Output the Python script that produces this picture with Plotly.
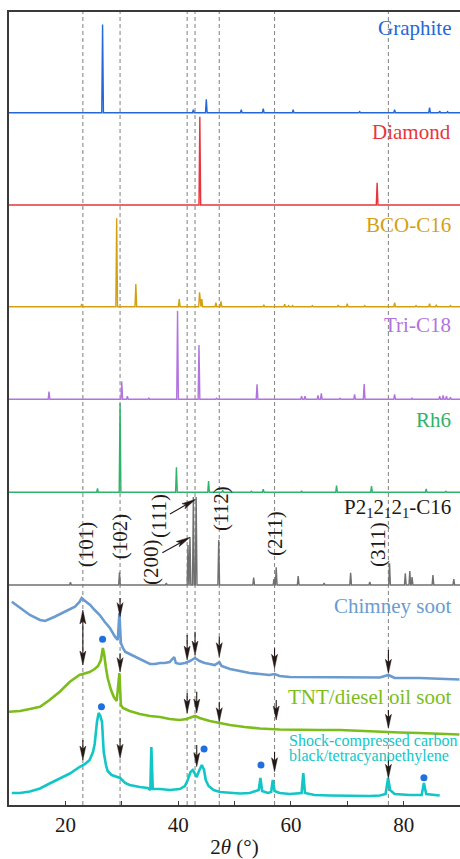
import plotly.graph_objects as go
import math

# ---------------- data (2theta in degrees, intensity in arbitrary units) ----------------
# simulated reference patterns: peak positions and heights
graphite_pos = [26.6, 42.7, 45.0, 51.2, 55.1, 60.4, 72.2, 78.4, 84.6, 86.4, 87.8]
graphite_int = [88.3, 3, 13.3, 3, 4, 3, 1, 3, 5, 1.5, 1]

diamond_pos = [43.85, 75.3]
diamond_int = [88.3, 22.3]

bco_pos = [22.9, 29.1, 32.5, 40.2, 43.8, 44.2, 46.7, 47.6, 55.2, 58.9, 59.6, 60.3, 63.8, 68.4, 70.0, 73.1, 78.4, 82.2, 84.6, 85.8, 88.3]
bco_int = [2.7, 88.4, 22.7, 7.7, 14.3, 7.7, 4, 5.3, 2, 2.5, 1, 1, 1, 1.5, 3, 1, 4, 1, 3, 2, 1]

tri_pos = [17.1, 30.0, 31.0, 34.8, 39.9, 43.7, 46.8, 54.0, 61.9, 62.5, 64.8, 65.4, 68.7, 71.3, 73.0, 78.4, 81.5, 86.4, 87.0, 87.6, 88.3]
tri_int = [7.7, 17.7, 3, 1.5, 88.3, 54.3, 1, 15, 3, 3, 4, 6, 1, 5, 15.3, 5, 1.5, 3, 4, 3, 2]

rh6_pos = [25.7, 29.7, 39.7, 45.4, 47.9, 53.0, 55.1, 61.9, 68.1, 74.3, 84.0, 87.5]
rh6_int = [4, 89, 25, 11.3, 2, 1, 3, 1.5, 6.7, 6.3, 3.5, 1]

p2_pos = [20.9, 29.6, 37.9, 41.75, 42.1, 42.7, 43.2, 47.2, 53.4, 57.0, 57.4, 61.3, 65.9, 70.6, 74.0, 77.5, 80.3, 81.1, 81.5, 85.2, 88.9]
p2_int = [2.7, 12.7, 2, 40, 48, 88, 88, 45, 7.3, 6, 17.7, 9, 2, 12.3, 3, 21.7, 11.7, 14, 8, 10, 6]

# experimental patterns (traced)
chimney_x = [10.5, 11.95, 13.7, 15.5, 16.4, 18.1, 19.9, 21.7, 22.5, 22.9, 23.5, 24.4, 25.2, 26.1, 27.0, 27.9, 28.8, 29.3, 29.58, 29.85, 30.2, 30.6, 31.4, 32.3, 33.2, 34.1, 35.0, 35.9, 36.8, 37.6, 38.5, 39.3, 39.6, 40.3, 41.2, 42.1, 43.0, 43.8, 44.7, 45.6, 46.5, 47.3, 47.7, 49.2, 51.0, 52.7, 54.5, 56.2, 57.1, 58.0, 59.8, 61.6, 65.1, 68.7, 72.2, 75.8, 77.3, 78.4, 82.8, 86.4, 89.9]
chimney_y = [203.3, 197, 190, 185, 184, 188.3, 193.3, 198.3, 203, 207, 204, 200, 195, 190, 183, 177, 168.3, 165, 192, 162, 157, 153.3, 151, 148.3, 146, 143, 141, 141, 142, 142, 143, 148, 142, 141, 142, 144, 147, 144, 142, 141, 140, 143, 139, 136, 134, 132, 131, 130, 131, 129, 128, 128, 128, 128, 127.5, 127.5, 130, 127, 127, 126, 125.5]

tnt_x = [10.0, 11.95, 13.7, 15.5, 17.2, 19.0, 20.8, 22.5, 24.3, 25.2, 25.8, 26.3, 26.65, 26.9, 27.2, 27.5, 28.1, 28.6, 29.1, 29.58, 29.85, 30.2, 31.4, 33.2, 35.0, 36.8, 38.5, 40.3, 41.5, 43.0, 43.8, 45.6, 47.4, 49.2, 51.8, 54.5, 58.0, 61.6, 65.1, 68.7, 72.2, 75.8, 79.3, 82.8, 86.4, 89.9]
tnt_y = [93.3, 94, 96, 98.3, 105, 113.3, 123.3, 130, 133, 136, 139, 145, 157, 150, 137, 127, 115, 108, 104, 132, 100, 97, 94, 91, 89, 88, 86, 85, 86, 89, 87, 84, 82, 80, 78, 76.5, 75.5, 75, 75, 75, 74, 73.5, 72.5, 72, 71, 70.5]

shock_x = [10.5, 11.95, 13.7, 15.5, 17.2, 19.0, 20.8, 22.5, 23.5, 24.3, 24.9, 25.2, 25.6, 25.9, 26.2, 26.5, 26.8, 27.2, 27.5, 28.2, 29.0, 29.7, 30.6, 31.4, 33.2, 34.6, 35.07, 35.25, 35.5, 36.8, 38.5, 40.3, 41.2, 41.7, 42.2, 42.6, 43.0, 43.3, 43.7, 44.2, 44.6, 44.9, 45.4, 46.3, 47.4, 49.2, 51.0, 52.7, 53.6, 54.3, 54.6, 54.9, 55.9, 56.5, 56.8, 57.1, 58.0, 59.8, 61.9, 62.2, 62.5, 64.2, 66.9, 70.4, 74.0, 75.8, 76.8, 77.25, 77.6, 78.4, 81.1, 83.2, 83.6, 84.0, 85.5, 86.4]
shock_y = [12, 12, 13.5, 16.5, 21.5, 26.5, 31.5, 38, 41, 45, 53, 61, 83, 92, 89, 83, 53, 40, 34, 30, 28, 27, 22, 20, 18, 17, 15, 58, 16, 16, 15, 16, 19, 25, 33, 35, 31, 28, 34, 40, 35, 25, 19, 15, 13, 12, 11.5, 12, 14, 15, 27, 14, 12, 13, 25, 14, 12, 11, 12, 32, 12, 10, 9.5, 9, 9, 9.5, 11, 27, 15, 11, 10, 10, 22, 11, 10, 9.5]

# marked phase peaks (blue dots)
dot_x = [26.6, 26.4, 44.6, 54.7, 83.6]
dot_y = [165.7, 98.3, 56, 40, 27.3]

# vertical offsets of stacked patterns
offsets = {"Graphite": 692.3, "Diamond": 600, "BCO-C16": 498.3, "Tri-C18": 405.7, "Rh6": 312.7, "P2": 220}

# reference lines (P2_12_12_1-C16 reflections)
ref_lines = [23.1, 29.7, 41.6, 43.0, 47.3, 57.1, 77.3]
hkl_text = ["(101)", "(102)", "(200)", "(111)", "(112)", "(211)", "(311)"]
hkl_x = [23.65, 29.6, 35.2, 36.6, 47.6, 57.1, 75.45]
hkl_y = [260.8, 268.3, 243, 289, 297, 271.5, 261]

# x tick labels
tick_vals = [20, 40, 60, 80]
tick_text = ["20", "40", "60", "80"]

# arrows: (x_tail, y_tail, x_tip, y_tip)
arrows = [
    # chimney soot
    (29.7, 207, 29.7, 188.3), (41.6, 170, 41.6, 145), (43.0, 173.3, 43.0, 150),
    (47.3, 168.3, 47.3, 148.3), (57.1, 156.7, 57.1, 136.7), (77.3, 155, 77.3, 131.7),
    (23.1, 168, 23.1, 195), (23.1, 168, 23.1, 140),
    # TNT/diesel oil soot
    (29.7, 151.7, 29.7, 133.3), (41.6, 112, 41.6, 92), (43.3, 113.3, 43.3, 92),
    (47.3, 103.3, 47.3, 83.3), (57.4, 105, 57.4, 85), (77.3, 95, 77.3, 76.7),
    # shock-compressed
    (23.1, 65, 23.1, 45), (29.7, 66.7, 29.7, 46.7), (43.3, 60, 43.3, 38.3),
    (57.1, 53.3, 57.1, 33.3), (77.3, 48.3, 77.3, 26.7),
    # (111) pointers in P2 panel
    (38.55, 291, 43.1, 305.7), (37.2, 252.3, 42.1, 267.7),
]

# ---------------- figure ----------------
FONT = "'Times New Roman', Tinos, 'Liberation Serif', 'Noto Serif', 'DejaVu Serif', serif"
W, H = 460, 859
ML, MR, MT, MB = 9, 0, 12, 54
XR = [10, 90]
YR = [0, H - MT - MB]
SX = (W - ML - MR) / (XR[1] - XR[0])  # px per degree
SY = (H - MT - MB) / (YR[1] - YR[0])

fig = go.Figure()

for xv in ref_lines:
    fig.add_shape(type="line", x0=xv, x1=xv, y0=YR[0], y1=YR[1], xref="x", yref="y",
                  line=dict(color="#8c8c8c", width=1.1, dash="4px,3px"), layer="below")


def sticks(pos, hts, base, hw=0.15):
    xs, ys = [XR[0]], [base]
    for p, h in sorted(zip(pos, hts)):
        xs += [p - hw, p, p + hw]
        ys += [base, base + h, base]
    xs.append(XR[1]); ys.append(base)
    return xs, ys


sim = [
    ("Graphite", graphite_pos, graphite_int, "#2468d8"),
    ("Diamond", diamond_pos, diamond_int, "#e8353c"),
    ("BCO-C16", bco_pos, bco_int, "#d4a012"),
    ("Tri-C18", tri_pos, tri_int, "#b272e0"),
    ("Rh6", rh6_pos, rh6_int, "#2fb36a"),
    ("P2", p2_pos, p2_int, "#707070"),
]
for name, pos, hts, col in sim:
    xs, ys = sticks(pos, hts, offsets[name])
    fig.add_trace(go.Scatter(x=xs, y=ys, mode="lines", line=dict(color=col, width=1.4),
                             hoverinfo="skip", showlegend=False))

for xs, ys, col in [(chimney_x, chimney_y, "#6a9bd0"), (tnt_x, tnt_y, "#7cbd1c"), (shock_x, shock_y, "#12c6c8")]:
    fig.add_trace(go.Scatter(x=xs, y=ys, mode="lines", line=dict(color=col, width=2.6),
                             hoverinfo="skip", showlegend=False))

fig.add_trace(go.Scatter(x=dot_x, y=dot_y, mode="markers", marker=dict(color="#1f6fe0", size=7),
                         hoverinfo="skip", showlegend=False))

# arrows (shaft + notched head), built from arrow list in pixel space
HEAD_L, HEAD_W, NOTCH = 14, 6, 3
sx_, sy_, hx, hy = [], [], [], []
for x0, y0, x1, y1 in arrows:
    X0, Y0, X1, Y1 = x0 * SX, y0 * SY, x1 * SX, y1 * SY
    L = math.hypot(X1 - X0, Y1 - Y0)
    dx, dy = (X1 - X0) / L, (Y1 - Y0) / L
    nx, ny = -dy, dx
    bx, by = X1 - HEAD_L * dx, Y1 - HEAD_L * dy
    sx_ += [x0, (bx + NOTCH * dx) / SX, None]
    sy_ += [y0, (by + NOTCH * dy) / SY, None]
    pts = [(X1, Y1), (bx + HEAD_W / 2 * nx, by + HEAD_W / 2 * ny), (bx + NOTCH * dx, by + NOTCH * dy),
           (bx - HEAD_W / 2 * nx, by - HEAD_W / 2 * ny), (X1, Y1)]
    hx += [p[0] / SX for p in pts] + [None]
    hy += [p[1] / SY for p in pts] + [None]
fig.add_trace(go.Scatter(x=sx_, y=sy_, mode="lines", line=dict(color="#231815", width=1.1),
                         hoverinfo="skip", showlegend=False))
fig.add_trace(go.Scatter(x=hx, y=hy, mode="lines", fill="toself", fillcolor="#231815",
                         line=dict(color="#231815", width=0.5), hoverinfo="skip", showlegend=False))

# sample labels
labels = [
    ("Graphite", 776.7, "#2468d8"), ("Diamond", 673.3, "#e8353c"), ("BCO-C16", 580.5, "#d4a012"),
    ("Tri-C18", 480, "#b272e0"), ("Rh6", 385.5, "#2fb36a"),
    ("P2<sub>1</sub>2<sub>1</sub>2<sub>1</sub>-C16", 297.5, "#231815"),
    ("Chimney soot", 199.2, "#6a9bd0"), ("TNT/diesel oil soot", 108, "#7cbd1c"),
]
for txt, yv, col in labels:
    fig.add_annotation(x=88.74, y=yv, text=txt, showarrow=False, xanchor="right", yanchor="middle",
                       font=dict(family=FONT, size=21, color=col))
for txt, yv in [("Shock-compressed carbon", 64.5), ("black/tetracyanoethylene", 49)]:
    fig.add_annotation(x=59.3, y=yv, text=txt, showarrow=False, xanchor="left", yanchor="middle",
                       font=dict(family=FONT, size=16, color="#12c6c8"))

for t, xv, yv in zip(hkl_text, hkl_x, hkl_y):
    fig.add_annotation(x=xv, y=yv, text=t, showarrow=False, textangle=-90, xanchor="center", yanchor="middle",
                       font=dict(family=FONT, size=21, color="#231815"))

fig.update_layout(
    width=W, height=H, margin=dict(l=ML, r=MR, t=MT, b=MB),
    paper_bgcolor="white", plot_bgcolor="white", showlegend=False,
    font=dict(family=FONT, size=21, color="#231815"),
    xaxis=dict(range=XR, showgrid=False, zeroline=False, showline=True, mirror=True,
               linecolor="#3a3a3a", linewidth=1.6, ticks="inside", ticklen=4, tickcolor="#3a3a3a",
               tickwidth=1.2, tickvals=tick_vals, ticktext=tick_text,
               minor=dict(dtick=10, tick0=0, ticks="inside", ticklen=4, tickcolor="#3a3a3a",
                          tickwidth=1.2, showgrid=False),
               tickfont=dict(family=FONT, size=21, color="#231815"),
               title=dict(text="2<i>θ</i> (°)", font=dict(family=FONT, size=21, color="#231815"), standoff=4)),
    yaxis=dict(range=YR, showgrid=False, zeroline=False, showline=True, mirror=False,
               linecolor="#3a3a3a", linewidth=1.6, showticklabels=False, ticks=""),
)

fig.write_html("out.html")
